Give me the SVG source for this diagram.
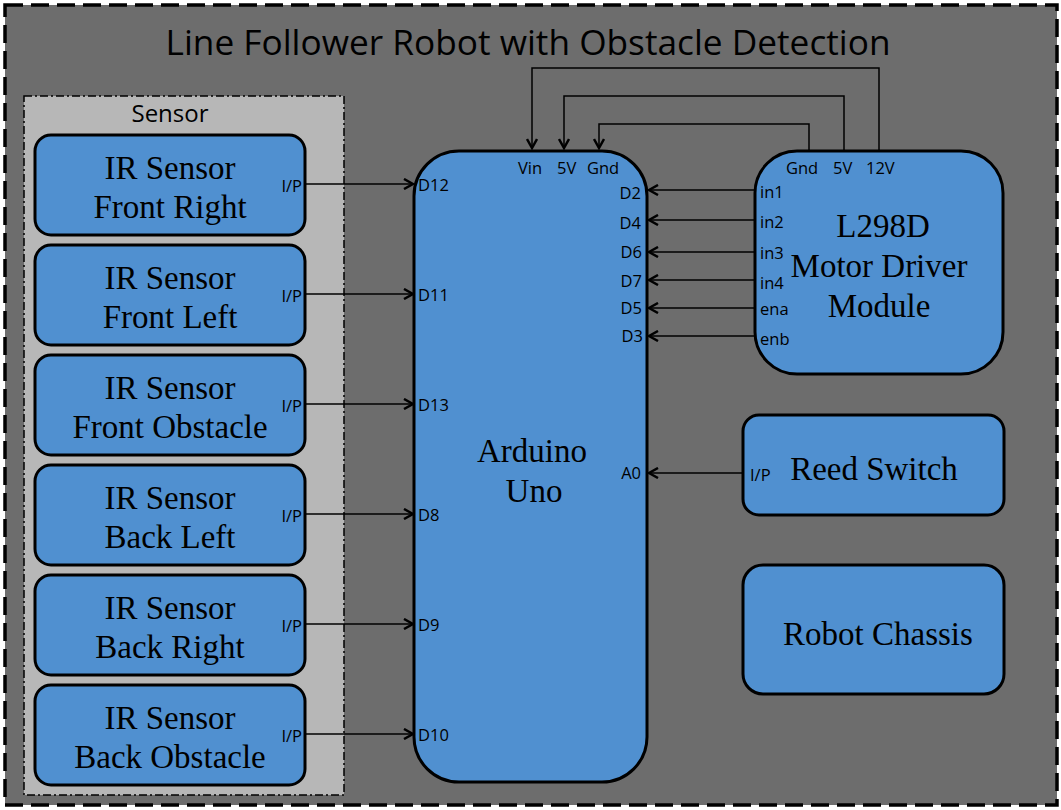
<svg xmlns="http://www.w3.org/2000/svg" width="1061" height="810" viewBox="0 0 1061 810">
<style>
.blk{fill:#5090d0;stroke:#000;stroke-width:3}
.big{font-family:"Liberation Serif","Times New Roman",serif;font-size:33px;fill:#000;text-anchor:middle}
.pin{font-family:"Open Sans","Liberation Sans",sans-serif;font-size:16.5px;fill:#000}
.r{text-anchor:end}
.wire{fill:none;stroke:#000;stroke-width:1.5}
</style>
<defs>
<marker id="ah" markerWidth="12" markerHeight="12" refX="10" refY="6" orient="auto" markerUnits="userSpaceOnUse">
<path d="M1,1 L10,6 L1,11" fill="none" stroke="#000" stroke-width="2.5"/>
</marker>
</defs>
<rect x="5" y="5" width="1052" height="800" fill="#6d6d6d" stroke="#000" stroke-width="3.5" stroke-dasharray="18,8"/>
<text x="528" y="55" font-family="Open Sans,Liberation Sans,sans-serif" font-size="34" text-anchor="middle" textLength="725" lengthAdjust="spacingAndGlyphs" fill="#000">Line Follower Robot with Obstacle Detection</text>
<g id="sensor-group">
<rect x="24" y="96" width="320" height="699" fill="#b7b7b7" stroke="#000" stroke-width="1.5" stroke-dasharray="8,3,2,3"/>
<text x="170" y="122" font-family="Open Sans,Liberation Sans,sans-serif" font-size="24" text-anchor="middle" fill="#000">Sensor</text>
</g>
<g id="ir-front-right">
<rect class="blk" x="35" y="135" width="270" height="100" rx="16"/>
<text class="big" x="170" y="179">IR Sensor</text>
<text class="big" x="170" y="218">Front Right</text>
<text class="pin r" x="302" y="192">I/P</text>
</g>
<g id="ir-front-left">
<rect class="blk" x="35" y="245" width="270" height="100" rx="16"/>
<text class="big" x="170" y="289">IR Sensor</text>
<text class="big" x="170" y="328">Front Left</text>
<text class="pin r" x="302" y="302">I/P</text>
</g>
<g id="ir-front-obstacle">
<rect class="blk" x="35" y="355" width="270" height="100" rx="16"/>
<text class="big" x="170" y="399">IR Sensor</text>
<text class="big" x="170" y="438">Front Obstacle</text>
<text class="pin r" x="302" y="412">I/P</text>
</g>
<g id="ir-back-left">
<rect class="blk" x="35" y="465" width="270" height="100" rx="16"/>
<text class="big" x="170" y="509">IR Sensor</text>
<text class="big" x="170" y="548">Back Left</text>
<text class="pin r" x="302" y="522">I/P</text>
</g>
<g id="ir-back-right">
<rect class="blk" x="35" y="575" width="270" height="100" rx="16"/>
<text class="big" x="170" y="619">IR Sensor</text>
<text class="big" x="170" y="658">Back Right</text>
<text class="pin r" x="302" y="632">I/P</text>
</g>
<g id="ir-back-obstacle">
<rect class="blk" x="35" y="685" width="270" height="100" rx="16"/>
<text class="big" x="170" y="729">IR Sensor</text>
<text class="big" x="170" y="768">Back Obstacle</text>
<text class="pin r" x="302" y="742">I/P</text>
</g>
<g id="arduino">
<rect class="blk" x="414" y="151" width="233" height="631" rx="45"/>
<text class="big" x="532" y="462">Arduino</text>
<text class="big" x="534" y="502">Uno</text>
<text class="pin" x="518" y="174">Vin</text>
<text class="pin" x="557" y="174">5V</text>
<text class="pin" x="587" y="174">Gnd</text>
<text class="pin" x="418" y="191">D12</text>
<text class="pin" x="418" y="301">D11</text>
<text class="pin" x="418" y="411">D13</text>
<text class="pin" x="418" y="521">D8</text>
<text class="pin" x="418" y="631">D9</text>
<text class="pin" x="418" y="741">D10</text>
<text class="pin r" x="641" y="199">D2</text>
<text class="pin r" x="641" y="229">D4</text>
<text class="pin r" x="642" y="258">D6</text>
<text class="pin r" x="642" y="287">D7</text>
<text class="pin r" x="642" y="314">D5</text>
<text class="pin r" x="643" y="342">D3</text>
<text class="pin r" x="641" y="479">A0</text>
</g>
<g id="l298d">
<rect class="blk" x="755" y="151" width="248" height="223" rx="42"/>
<text class="big" x="883" y="237">L298D</text>
<text class="big" x="879" y="277">Motor Driver</text>
<text class="big" x="879" y="317">Module</text>
<text class="pin" x="786" y="174">Gnd</text>
<text class="pin" x="833" y="174">5V</text>
<text class="pin" x="866" y="174">12V</text>
<text class="pin" x="760" y="198">in1</text>
<text class="pin" x="760" y="228">in2</text>
<text class="pin" x="760" y="259">in3</text>
<text class="pin" x="760" y="289">in4</text>
<text class="pin" x="760" y="315">ena</text>
<text class="pin" x="760" y="345">enb</text>
</g>
<g id="reed-switch">
<rect class="blk" x="743" y="415" width="261" height="100" rx="16"/>
<text class="big" x="874" y="480">Reed Switch</text>
<text class="pin" x="750" y="481">I/P</text>
</g>
<g id="robot-chassis">
<rect class="blk" x="743" y="565" width="261" height="129" rx="20"/>
<text class="big" x="878" y="645">Robot Chassis</text>
</g>
<g id="connectors">
<path class="wire" d="M306,184 H413" marker-end="url(#ah)"/>
<path class="wire" d="M306,294 H413" marker-end="url(#ah)"/>
<path class="wire" d="M306,404 H413" marker-end="url(#ah)"/>
<path class="wire" d="M306,514 H413" marker-end="url(#ah)"/>
<path class="wire" d="M306,624 H413" marker-end="url(#ah)"/>
<path class="wire" d="M306,734 H413" marker-end="url(#ah)"/>
<path class="wire" d="M755,190 H649" marker-end="url(#ah)"/>
<path class="wire" d="M755,220 H649" marker-end="url(#ah)"/>
<path class="wire" d="M755,252 H649" marker-end="url(#ah)"/>
<path class="wire" d="M755,280 H649" marker-end="url(#ah)"/>
<path class="wire" d="M755,308 H649" marker-end="url(#ah)"/>
<path class="wire" d="M755,336 H649" marker-end="url(#ah)"/>
<path class="wire" d="M743,473 H649" marker-end="url(#ah)"/>
<path class="wire" d="M879,150 V68 H532 V148" marker-end="url(#ah)"/>
<path class="wire" d="M844,150 V96 H564 V148" marker-end="url(#ah)"/>
<path class="wire" d="M809,150 V124 H599 V148" marker-end="url(#ah)"/>
</g>
</svg>
